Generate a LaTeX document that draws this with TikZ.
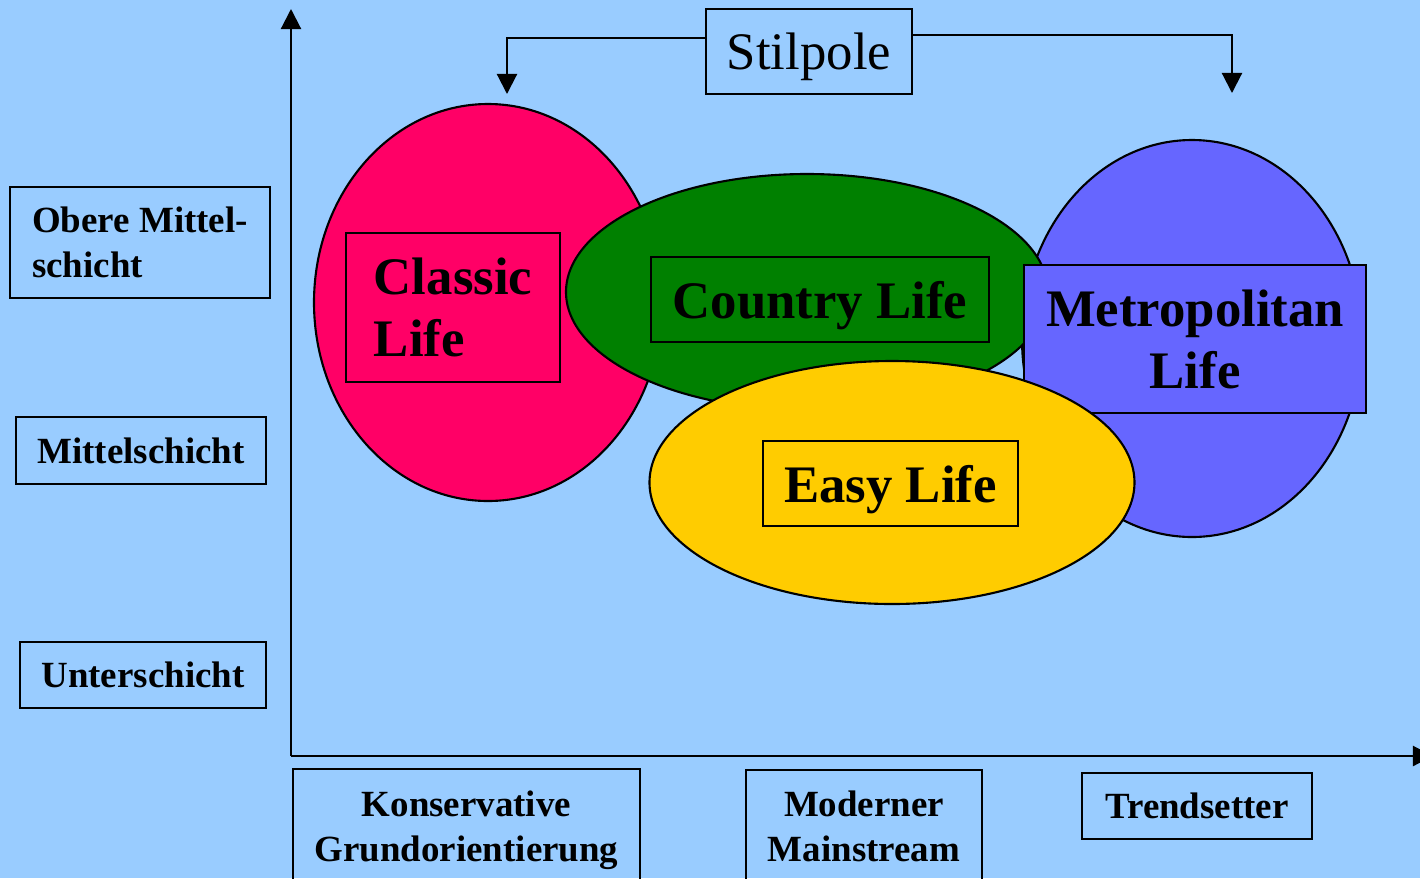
\documentclass[tikz,border=0pt]{standalone}
\usepackage{fontspec}
\setmainfont{Liberation Serif}
\usetikzlibrary{arrows.meta}
\definecolor{skyback}{HTML}{99CCFF}
\definecolor{classicred}{HTML}{FF0066}
\definecolor{countrygreen}{HTML}{008000}
\definecolor{metroblue}{HTML}{6666FF}
\definecolor{easyyellow}{HTML}{FFCC00}
\begin{document}
\begin{tikzpicture}[x=0.01cm,y=-0.01cm,line width=0.6pt,
  axislabel/.style={draw,inner sep=0pt,font=\fontsize{10.5}{12.8}\selectfont\bfseries},
  lifebox/.style={draw,inner sep=0pt,font=\fontsize{15}{17.6}\selectfont\bfseries},
  pointer/.style={-{Triangle[width=0.2cm,length=0.2cm]}}]
  \fill[skyback] (0,0) rectangle (1420,878);
  \useasboundingbox (0,0) rectangle (1420,878);
  % axes
  \coordinate (origin) at (291,756);
  \coordinate (ytip) at (291,9);
  \coordinate (xtip) at (1433,756);
  \draw[pointer] (origin) -- (ytip);
  \draw[pointer] (origin) -- (xtip);
  % style poles
  \node[draw,inner sep=0pt,minimum width=2.06cm,minimum height=0.85cm,text depth=0pt,
    font=\fontsize{15}{18}\selectfont] (stil) at (809,51.5) {Stilpole};
  \coordinate (poleL) at (507,94);
  \coordinate (poleR) at (1232,93);
  \draw[pointer] ([yshift=0.135cm]stil.west) -| (poleL);
  \draw[pointer] ([yshift=0.165cm]stil.east) -| (poleR);
  % milieus
  \draw[fill=metroblue] (1192,338.5) ellipse [x radius=170, y radius=198.5];
  \draw[fill=classicred] (488,302.5) ellipse [x radius=174, y radius=198.5];
  \node[lifebox,fill=classicred,align=left,minimum width=2.14cm,minimum height=1.49cm]
    (classic) at (453,307.5) {Classic\\Life};
  \draw[fill=countrygreen] (807,292) ellipse [x radius=241, y radius=118];
  \node[lifebox,fill=countrygreen,text depth=0pt,minimum width=3.38cm,minimum height=0.85cm]
    (country) at (820,299.5) {Country Life};
  \node[lifebox,fill=metroblue,align=center,minimum width=3.42cm,minimum height=1.48cm]
    (metro) at (1195,339) {Metropolitan\\Life};
  \draw[fill=easyyellow] (892,482.5) ellipse [x radius=242.5, y radius=121.5];
  \node[lifebox,fill=easyyellow,text depth=0pt,minimum width=2.55cm,minimum height=0.85cm]
    (easy) at (890.5,483.5) {Easy Life};
  % social strata
  \node[axislabel,align=left,minimum width=2.60cm,minimum height=1.11cm]
    (upper) at (140,242.5) {Obere Mittel-\\schicht};
  \node[axislabel,minimum width=2.50cm,minimum height=0.67cm]
    (middle) at (141,450.5) {Mittelschicht};
  \node[axislabel,minimum width=2.46cm,minimum height=0.66cm]
    (lower) at (143,675) {Unterschicht};
  % orientations
  \node[axislabel,align=center,minimum width=3.47cm,minimum height=1.22cm]
    (conserv) at (466.5,830) {Konservative\\Grundorientierung};
  \node[axislabel,align=center,minimum width=2.36cm,minimum height=1.12cm]
    (mainstream) at (864,826) {Moderner\\Mainstream};
  \node[axislabel,minimum width=2.30cm,minimum height=0.66cm]
    (trend) at (1197,806) {Trendsetter};
\end{tikzpicture}
\end{document}
